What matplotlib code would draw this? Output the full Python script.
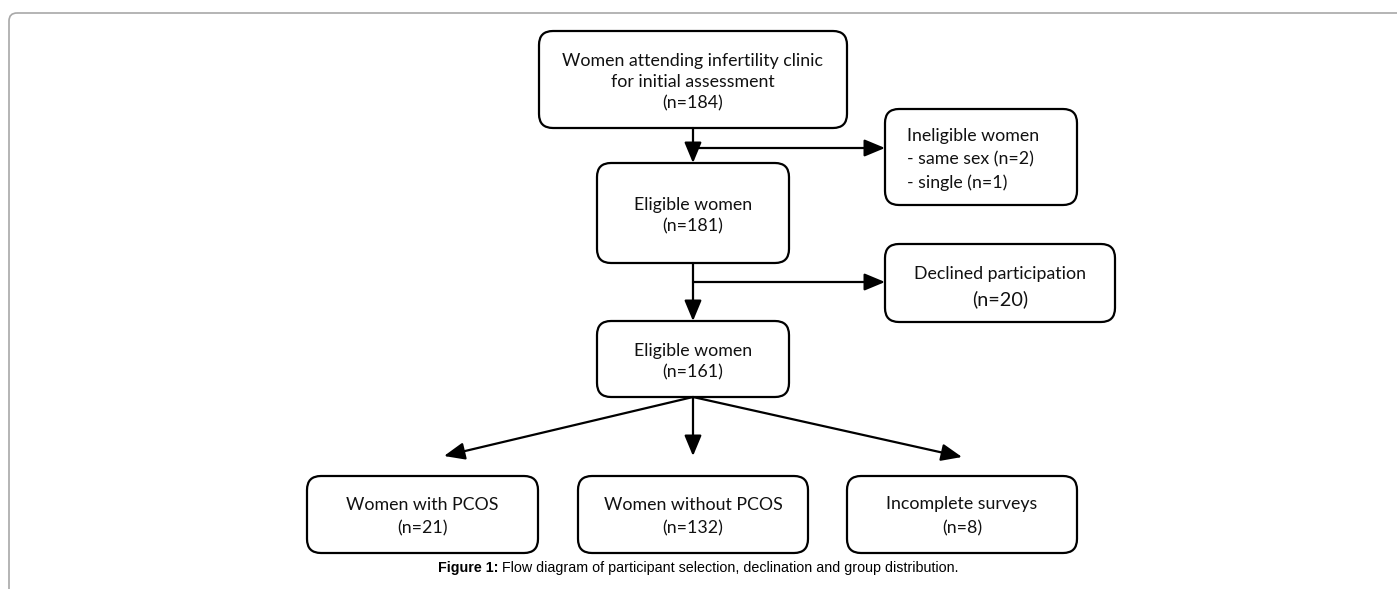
import matplotlib.pyplot as plt
from matplotlib.patches import FancyBboxPatch

plt.rcParams['font.family'] = ['Lato', 'DejaVu Sans']

# Flow stages (text and counts)
main_labels = ['Women attending infertility clinic\nfor initial assessment', 'Eligible women', 'Eligible women']
main_counts = [184, 181, 161]
side_labels = ['Ineligible women\n- same sex (n=2)\n- single (n=1)', 'Declined participation']
side_counts = [None, 20]
group_labels = ['Women with PCOS', 'Women without PCOS', 'Incomplete surveys']
group_counts = [21, 132, 8]
caption_bold = 'Figure 1:'
caption_text = ' Flow diagram of participant selection, declination and group distribution.'

# Layout in pixels (x0, y0, x1, y1)
main_boxes = [(539, 31, 847, 128), (597, 163, 789, 263), (597, 321, 789, 397)]
side_boxes = [(885, 109, 1077, 205), (885, 244, 1115, 322)]
group_boxes = [(307, 476, 538, 553), (578, 476, 808, 553), (847, 476, 1077, 553)]
branch_y = [148, 282]
group_tips = [(444, 456), (693, 456), (962, 457)]

W, H = 1397, 589
fig = plt.figure(figsize=(W / 100, H / 100), dpi=100)
ax = fig.add_axes([0, 0, 1, 1])
ax.set_xlim(0, W)
ax.set_ylim(H, 0)
ax.axis('off')

LW = 1.6
FS = 12.8

# outer frame
frame = FancyBboxPatch((9, 13), W + 40, H + 40, boxstyle='round,pad=0,rounding_size=8',
                       facecolor='none', edgecolor='#a8a8a8', linewidth=1.2)
ax.add_patch(frame)


def box(b, r=14):
    x0, y0, x1, y1 = b
    p = FancyBboxPatch((x0, y0), x1 - x0, y1 - y0, boxstyle=f'round,pad=0,rounding_size={r}',
                       facecolor='white', edgecolor='black', linewidth=LW)
    ax.add_patch(p)


def arrow(x0, y0, x1, y1):
    ax.annotate('', xy=(x1, y1), xytext=(x0, y0),
                arrowprops=dict(arrowstyle='-|>,head_length=1.2,head_width=0.5', color='black',
                                lw=LW, shrinkA=0, shrinkB=0, mutation_scale=10.5))


for b, lab, n in zip(main_boxes, main_labels, main_counts):
    box(b)
    cx, cy = (b[0] + b[2]) / 2, (b[1] + b[3]) / 2
    ax.text(cx, cy + 3, f'{lab}\n(n={n})', ha='center', va='center', fontsize=FS,
            linespacing=1.4, color='#111111')

# ineligible box (left aligned)
b = side_boxes[0]
box(b)
ax.text(907, (b[1] + b[3]) / 2 + 2.5, side_labels[0], ha='left', va='center', fontsize=FS,
        linespacing=1.55, color='#111111')

# declined box
b = side_boxes[1]
box(b)
cx, cy = (b[0] + b[2]) / 2, (b[1] + b[3]) / 2
ax.text(cx, cy - 9, side_labels[1], ha='center', va='center', fontsize=FS, color='#111111')
ax.text(cx, cy + 16, f'(n={side_counts[1]})', ha='center', va='center', fontsize=FS + 1.5, color='#111111')

for b, lab, n in zip(group_boxes, group_labels, group_counts):
    box(b)
    cx, cy = (b[0] + b[2]) / 2, (b[1] + b[3]) / 2
    ax.text(cx, cy + 2, f'{lab}\n(n={n})', ha='center', va='center', fontsize=FS,
            linespacing=1.6, color='#111111')

# vertical connectors with side branches
cxm = 693
for i in range(2):
    top = main_boxes[i][3]
    bot = main_boxes[i + 1][1]
    arrow(cxm, top, cxm, bot)
    arrow(cxm, branch_y[i], side_boxes[i][0], branch_y[i])

# split to groups
for tx, ty in group_tips:
    arrow(cxm, main_boxes[2][3], tx, ty)

# caption
t1 = ax.text(0, 568, caption_bold, fontsize=10.3, fontweight='bold', family='Liberation Sans',
             ha='left', va='center')
t2 = ax.text(0, 568, caption_text, fontsize=10.3, family='Liberation Sans', ha='left', va='center')
fig.canvas.draw()
r = fig.canvas.get_renderer()
w1 = t1.get_window_extent(r).width
w2 = t2.get_window_extent(r).width
start = 698 - (w1 + w2) / 2
t1.set_x(start)
t2.set_x(start + w1)

fig.savefig('out.png', dpi=100, facecolor='white')
